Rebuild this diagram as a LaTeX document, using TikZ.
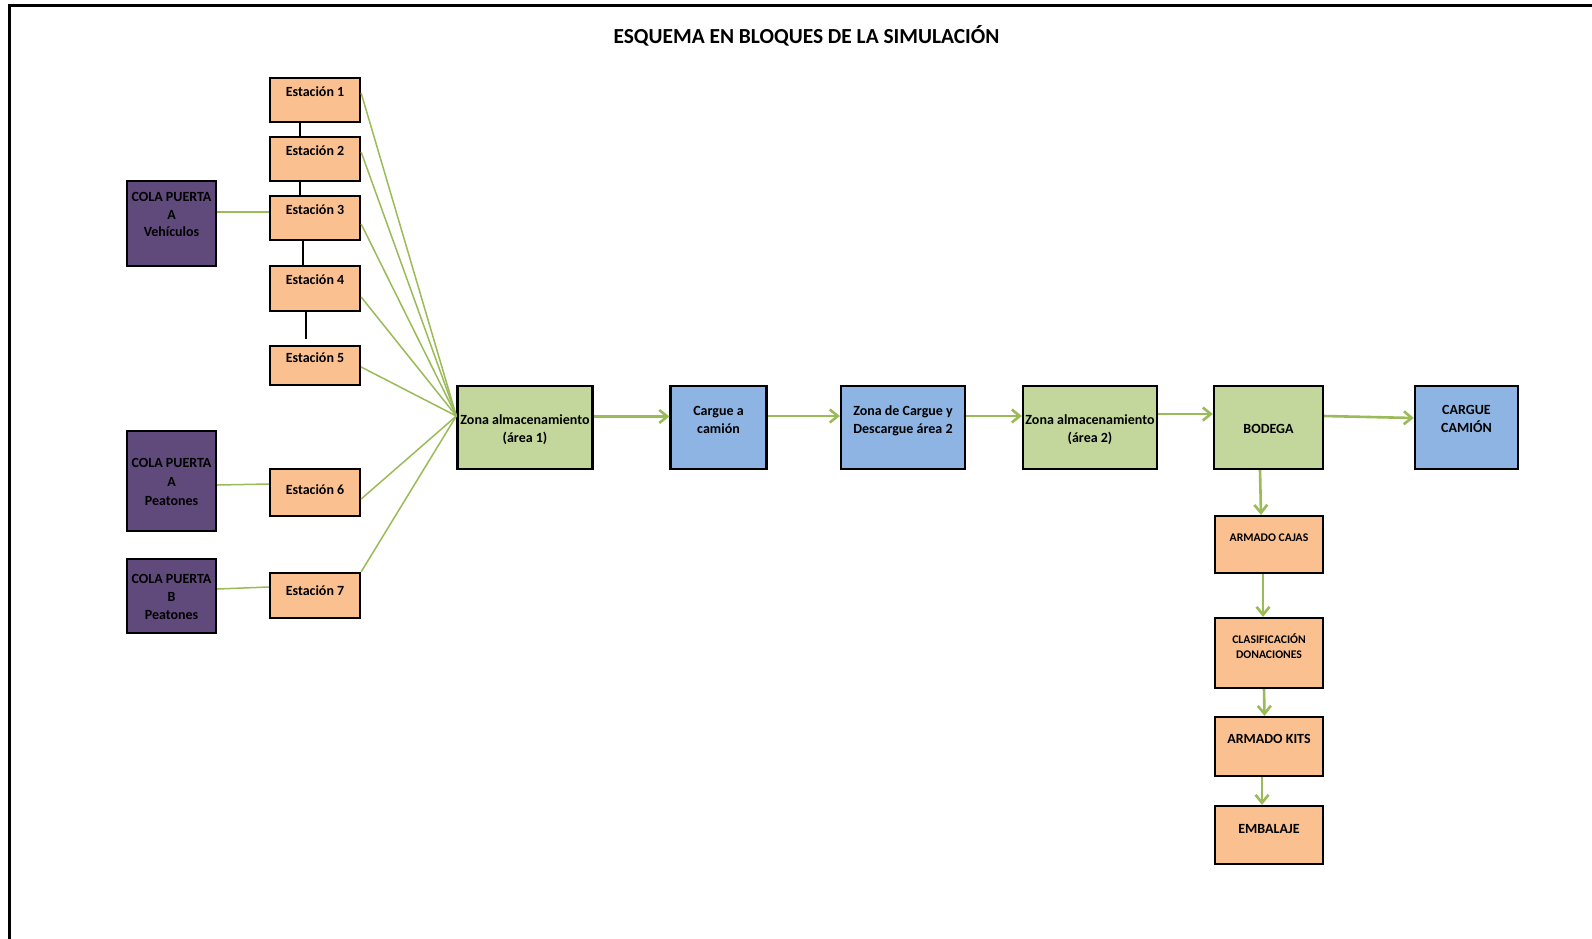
\documentclass[tikz,border=0pt]{standalone}
\usepackage{fontspec}
\setmainfont{Carlito}
\usetikzlibrary{arrows.meta}
\definecolor{stationfill}{HTML}{FAC090}
\definecolor{queuefill}{HTML}{604A7B}
\definecolor{storefill}{HTML}{C3D69B}
\definecolor{truckfill}{HTML}{8DB4E2}
\definecolor{flowgreen}{HTML}{9BBB59}

\begin{document}
\begin{tikzpicture}[x=1pt,y=-1pt,
  blk/.style={draw=black, line width=2.3pt, rectangle, inner sep=0pt},
  sz/.style 2 args={minimum width=#1pt, minimum height=#2pt},
  station/.style={blk, fill=stationfill},
  queue/.style={blk, fill=queuefill},
  store/.style={blk, fill=storefill},
  truck/.style={blk, fill=truckfill},
  lbl/.style={font=\fontsize{14}{18}\selectfont\bfseries, align=center, inner sep=0pt},
  lblone/.style={lbl, text height=9pt, text depth=0pt},
  small/.style={font=\fontsize{11.7}{15}\selectfont\bfseries, align=center, inner sep=0pt},
  smallone/.style={small, text height=7.5pt, text depth=0pt},
  link/.style={draw=flowgreen, line width=1.5pt},
  flow/.style={draw=flowgreen, line width=2.6pt, -{Straight Barb[length=8pt,width=13pt]}},
  tie/.style={draw=black, line width=1.5pt}]

% canvas and frame
\useasboundingbox (0,0) rectangle (1592,938);
\fill[white] (0,0) rectangle (1592,938);
\draw[line width=3pt] (9.7,940) -- (9.7,5.3) -- (1594,5.3);

% title
\node[font=\fontsize{21.4}{25}\selectfont\bfseries, text height=13.7pt, text depth=0pt, inner sep=0pt]
  (title) at (806.5,37) {ESQUEMA EN BLOQUES DE LA SIMULACIÓN};

% stations
\node[station, sz={90}{44}] (e1) at (315,100) {};
\node[station, sz={90}{44}] (e2) at (315,159) {};
\node[station, sz={90}{44}] (e3) at (315,218) {};
\node[station, sz={90}{45}] (e4) at (315,288.5) {};
\node[station, sz={90}{39}] (e5) at (315,365.5) {};
\node[station, sz={90}{47}] (e6) at (315,492.5) {};
\node[station, sz={90}{45}] (e7) at (315,595.5) {};
\node[lblone] (e1t) at (315,92) {Estación 1};
\node[lblone] (e2t) at (315,150.5) {Estación 2};
\node[lblone] (e3t) at (315,210) {Estación 3};
\node[lblone] (e4t) at (315,279.5) {Estación 4};
\node[lblone] (e5t) at (315,357.5) {Estación 5};
\node[lblone] (e6t) at (315,490) {Estación 6};
\node[lblone] (e7t) at (315,591) {Estación 7};

% gate queues
\node[queue, sz={89}{85}] (qa) at (171.5,223.5) {};
\node[queue, sz={89}{100}] (qp) at (171.5,481) {};
\node[queue, sz={89}{74}] (qb) at (171.5,596) {};
\node[lbl, font=\fontsize{14}{17.5}\selectfont\bfseries] (qat) at (171.5,214.5) {COLA PUERTA\\A\\Vehículos};
\node[lbl, font=\fontsize{14}{19}\selectfont\bfseries] (qpt) at (171.5,482) {COLA PUERTA\\A\\Peatones};
\node[lbl] (qbt) at (171.5,596.5) {COLA PUERTA\\B\\Peatones};

% main line
\node[store, sz={135}{83}] (z1) at (525,427.5) {};
\node[truck, sz={96}{83}] (cc) at (718.5,427.5) {};
\node[truck, sz={124}{83}] (zd) at (903,427.5) {};
\node[store, sz={134}{83}] (z2) at (1090,427.5) {};
\node[store, sz={109}{83}] (bo) at (1268.5,427.5) {};
\node[truck, sz={103}{83}] (cm) at (1466.5,427.5) {};
\node[lbl] (z1t) at (525,429.5) {Zona almacenamiento\\(área 1)};
\node[lbl] (cct) at (718.5,419.5) {Cargue a\\camión};
\node[lbl] (zdt) at (903,421) {Zona de Cargue y\\Descargue área 2};
\node[lbl] (z2t) at (1090,429.5) {Zona almacenamiento\\(área 2)};
\node[lblone] (bot) at (1268.5,428.5) {BODEGA};
\node[lbl] (cmt) at (1466.5,419) {CARGUE\\CAMIÓN};

% warehouse column
\node[station, sz={108}{57}] (ac) at (1269,544.5) {};
\node[station, sz={108}{70}] (cl) at (1269,653) {};
\node[station, sz={108}{59}] (ak) at (1269,746.5) {};
\node[station, sz={108}{58}] (em) at (1269,835) {};
\node[smallone] (act) at (1269,537.5) {ARMADO CAJAS};
\node[small] (clt) at (1269,646) {CLASIFICACIÓN\\DONACIONES};
\node[lblone] (akt) at (1269,738.5) {ARMADO KITS};
\node[lblone] (emt) at (1269,828.5) {EMBALAJE};

% station chain
\draw[tie] ([xshift=-15pt]e1.south) -- ([xshift=-15pt]e2.north);
\draw[tie] ([xshift=-15pt]e2.south) -- ([xshift=-15pt]e3.north);
\draw[tie] ([xshift=-12pt]e3.south) -- ([xshift=-12pt]e4.north);
\draw[tie, shorten >=6pt] ([xshift=-9pt]e4.south) -- ([xshift=-9pt]e5.north);

% queues to stations
\draw[link] ([yshift=11.5pt]qa.east) -- ([yshift=6pt]e3.west);
\draw[link] ([yshift=-4pt]qp.east) -- ([yshift=8.5pt]e6.west);
\draw[link] ([yshift=7pt]qb.east) -- ([yshift=8.5pt]e7.west);

% stations to storage area 1
\coordinate (z1in) at ([yshift=11.5pt]z1.west);
\draw[link] ([yshift=7pt]e1.east) -- (z1in);
\draw[link] ([yshift=7pt]e2.east) -- (z1in);
\draw[link] ([yshift=-6pt]e3.east) -- (z1in);
\draw[link] ([yshift=-8.5pt]e4.east) -- (z1in);
\draw[link] ([yshift=-1.5pt]e5.east) -- (z1in);
\draw[link] ([yshift=-6.5pt]e6.east) -- (z1in);
\draw[link] (e7.north east) -- (z1in);

% main flow
\draw[flow] ([yshift=11pt]z1.east) -- ([yshift=11pt]cc.west);
\draw[flow] ([yshift=11.5pt]cc.east) -- ([yshift=11.5pt]zd.west);
\draw[flow] ([yshift=11.5pt]zd.east) -- ([yshift=11.5pt]z2.west);
\draw[flow] ([yshift=13.5pt]z2.east) -- ([yshift=13.5pt]bo.west);
\draw[flow] ([yshift=11.5pt]bo.east) -- ([yshift=9.5pt]cm.west);

% warehouse flow
\draw[flow] ([xshift=-8.5pt]bo.south) -- ([xshift=-8pt]ac.north);
\draw[flow] ([xshift=-6pt]ac.south) -- ([xshift=-6pt]cl.north);
\draw[flow] ([xshift=-5pt]cl.south) -- ([xshift=-4.5pt]ak.north);
\draw[flow] ([xshift=-7pt]ak.south) -- ([xshift=-7pt]em.north);
\end{tikzpicture}
\end{document}
